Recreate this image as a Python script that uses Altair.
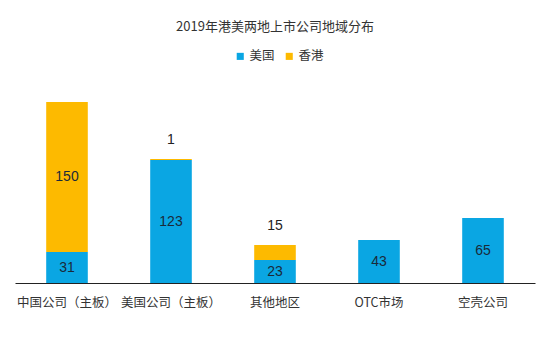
import altair as alt
import pandas as pd

categories = ["中国公司（主板）", "美国公司（主板）", "其他地区", "OTC市场", "空壳公司"]
us_values = [31, 123, 23, 43, 65]
hk_values = [150, 1, 15, 0, 0]
series = ["美国", "香港"]
colors = ["#0AA6E3", "#FDBA00"]

rows = []
for c, u, h in zip(categories, us_values, hk_values):
    rows.append({"cat": c, "series": "美国", "order": 0, "value": u, "start": 0, "end": u})
    if h > 0:
        rows.append({"cat": c, "series": "香港", "order": 1, "value": h, "start": u, "end": u + h})
df = pd.DataFrame(rows)
df["mid"] = (df["start"] + df["end"]) / 2
df["label"] = df["value"].astype(str)

FONT = "Noto Sans CJK SC"

x = alt.X("cat:N", sort=categories,
          scale=alt.Scale(paddingInner=0.6, paddingOuter=0.3),
          axis=alt.Axis(title=None, labelAngle=0, ticks=False, domainColor="#222",
                        domainWidth=1.2, labelFont=FONT, labelFontSize=12.5,
                        labelColor="#333", labelPadding=13))
yscale = alt.Scale(domain=[0, 200])

bars = alt.Chart(df).mark_bar().encode(
    x=x,
    y=alt.Y("start:Q", scale=yscale, axis=None),
    y2="end:Q",
    color=alt.Color("series:N", scale=alt.Scale(domain=series, range=colors),
                    legend=alt.Legend(title=None, orient="none", legendX=219, legendY=-33,
                                      direction="horizontal", symbolType="square",
                                      symbolSize=50, labelFont=FONT, labelFontSize=12.5,
                                      labelColor="#333", columnPadding=8, labelOffset=3,
                                      symbolStrokeWidth=0)),
    order="order:Q",
)

inside = alt.Chart(df).transform_filter("datum.value >= 20").mark_text(
    font="Liberation Sans", fontSize=14, color="#1a2a3a").encode(
    x=alt.X("cat:N", sort=categories),
    y=alt.Y("mid:Q", scale=yscale),
    text="label:N",
)

outside = alt.Chart(df).transform_filter("datum.value < 20").mark_text(
    font="Liberation Sans", fontSize=14, color="#222", dy=-19).encode(
    x=alt.X("cat:N", sort=categories),
    y=alt.Y("end:Q", scale=yscale),
    text="label:N",
)

chart = alt.layer(bars, inside, outside).properties(
    width=520, height=200,
    title=alt.TitleParams("2019年港美两地上市公司地域分布", font=FONT, fontSize=13,
                          fontWeight="normal", color="#333", anchor="middle", offset=16),
    autosize=alt.AutoSizeParams(type="none"),
    padding={"left": 15, "top": 83, "right": 15, "bottom": 56},
).configure_view(stroke=None)

chart.save("out.html", embed_options={"renderer": "svg", "actions": False})
